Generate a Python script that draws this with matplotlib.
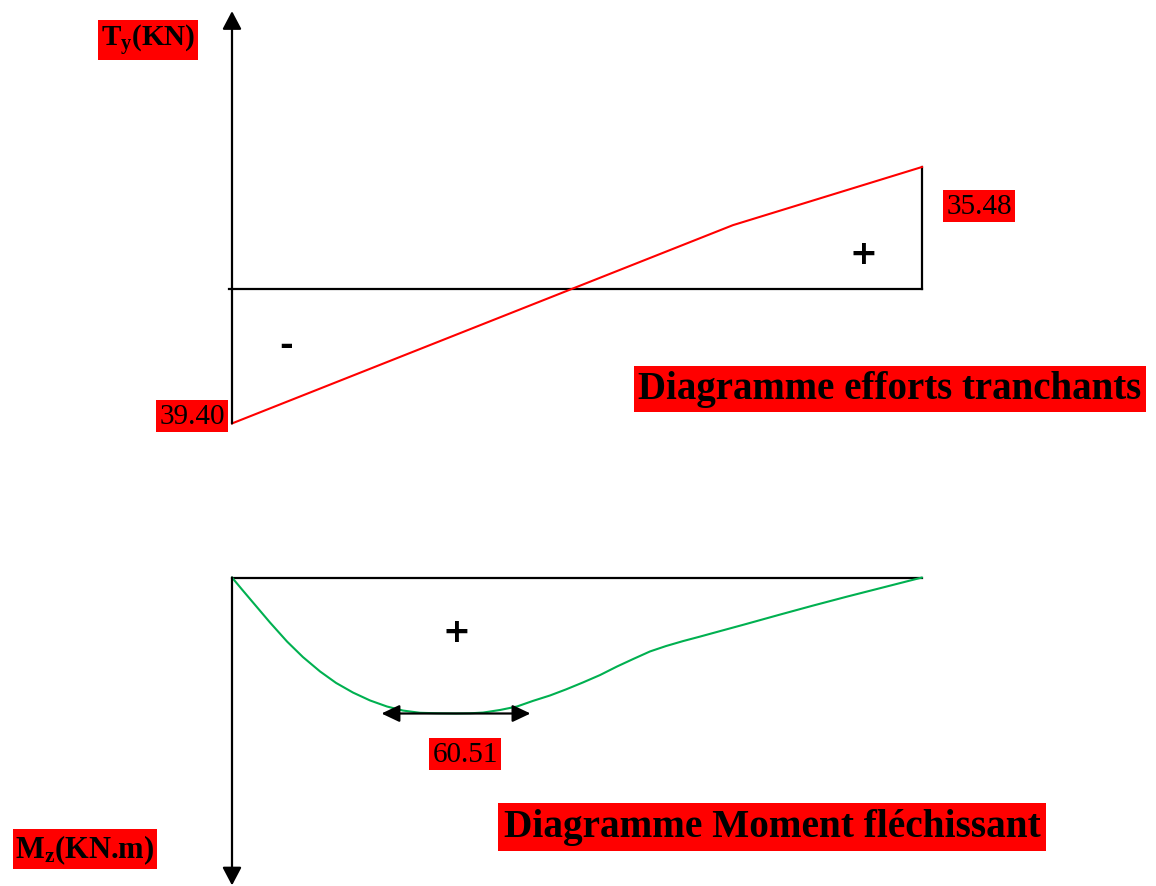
import matplotlib
matplotlib.use('Agg')
import matplotlib.pyplot as plt

plt.rcParams['font.family'] = 'Liberation Serif'
plt.rcParams['mathtext.fontset'] = 'custom'
plt.rcParams['mathtext.rm'] = 'Liberation Serif'
plt.rcParams['mathtext.bf'] = 'Liberation Serif:bold'

# Beam length (m) and diagram values
L = 5.0
x_shear = [0.0, 3.63, L]
T_shear = [-39.40, 18.5, 35.48]

x_moment = [0.0, 0.072, 0.152, 0.275, 0.399, 0.514, 0.638, 0.754, 0.877, 1.0,
            1.123, 1.239, 1.362, 1.493, 1.623, 1.725, 1.819, 1.942, 2.065,
            2.181, 2.304, 2.420, 2.543, 2.667, 2.790, 2.906, 3.029, 3.145,
            3.268, 3.391, 3.486, 3.725, 3.971, 4.210, 4.457, 4.732, 5.0]
M_moment = [0.0, 5.3, 11.1, 20.0, 28.5, 35.4, 41.8, 46.9, 51.2, 54.7,
            57.4, 59.2, 60.2, 60.42, 60.51, 60.42, 60.1, 58.95, 57.4,
            54.9, 52.5, 49.8, 46.7, 43.4, 39.6, 36.3, 32.9, 30.5,
            28.3, 26.3, 24.7, 20.7, 16.5, 12.5, 8.5, 4.2, 0.0]

T_min, T_max = -39.40, 35.48
M_max, x_M_max = 60.51, 1.623

W, H = 1156, 887
fig = plt.figure(figsize=(W / 100, H / 100), dpi=100)

# pixel layout of the drawing
px_x0, px_x1 = 232, 922
px_per_m = (px_x1 - px_x0) / L
xlim = (-px_x0 / px_per_m, (W - px_x0) / px_per_m)

kT = 0.292            # kN per pixel
y0_T = 289.5
kM = M_max / 136.0    # kN.m per pixel
y0_M = 578.5

ax_t = fig.add_axes([0, 0, 1, 1])
ax_t.set_xlim(xlim)
ax_t.set_ylim(-(H - y0_T) * kT, y0_T * kT)
ax_t.axis('off')
ax_t.patch.set_alpha(0)

ax_m = fig.add_axes([0, 0, 1, 1])
ax_m.set_xlim(xlim)
ax_m.set_ylim((H - y0_M) * kM, -y0_M * kM)
ax_m.axis('off')
ax_m.patch.set_alpha(0)

lw = 1.6
arrow_kw = dict(arrowstyle='-|>,head_length=0.55,head_width=0.29', color='black',
                lw=lw, shrinkA=0, shrinkB=0, mutation_scale=20)

# ---- shear force diagram
ax_t.plot([-0.02, L], [0, 0], color='black', lw=lw)
ax_t.plot([L, L], [0, T_max], color='black', lw=lw)
ax_t.annotate('', xy=(0, 81.0), xytext=(0, T_min), arrowprops=arrow_kw)
ax_t.plot(x_shear, T_shear, color='red', lw=1.5, solid_joinstyle='round')

# ---- bending moment diagram
ax_m.plot([0, L], [0, 0], color='black', lw=lw)
ax_m.annotate('', xy=(0, 137.0), xytext=(0, 0), arrowprops=arrow_kw)
ax_m.plot(x_moment, M_moment, color='#00b050', lw=1.5,
          solid_joinstyle='round', solid_capstyle='round')
ax_m.annotate('', xy=(x_M_max - 0.54, M_max), xytext=(x_M_max + 0.54, M_max),
              arrowprops=dict(arrowstyle='<|-|>,head_length=0.55,head_width=0.26',
                              color='black', lw=lw, shrinkA=0, shrinkB=0,
                              mutation_scale=20))

# ---- labels
box = dict(facecolor='red', edgecolor='none', pad=2)


def ftext(px, py, s, **kw):
    fig.text(px / W, 1 - py / H, s, ha='center', va='center', **kw)


ftext(148, 41, r'$\mathbf{T_y}$(KN)', fontsize=21, fontweight='bold', bbox=box)
ftext(85, 850, r'$\mathbf{M_z}$(KN.m)', fontsize=22, fontweight='bold', bbox=box)
ftext(192, 417, f'{abs(T_min):.2f}', fontsize=21, bbox=box)
ftext(979, 207, f'{T_max:.2f}', fontsize=21, bbox=box)
ftext(465, 755, f'{M_max:.2f}', fontsize=21, bbox=box)
ftext(890, 390, 'Diagramme efforts tranchants', fontsize=28, fontweight='bold',
      bbox=dict(facecolor='red', edgecolor='none', pad=3))
ftext(772, 828, 'Diagramme Moment fléchissant', fontsize=28.3, fontweight='bold',
      bbox=dict(facecolor='red', edgecolor='none', pad=4))

sign_kw = dict(fontsize=24, fontweight='bold', family='DejaVu Sans')
ftext(863, 255, '+', **sign_kw)
ftext(286, 346, '-', **sign_kw)
ftext(456, 633, '+', **sign_kw)

fig.savefig('out.png', dpi=100)
